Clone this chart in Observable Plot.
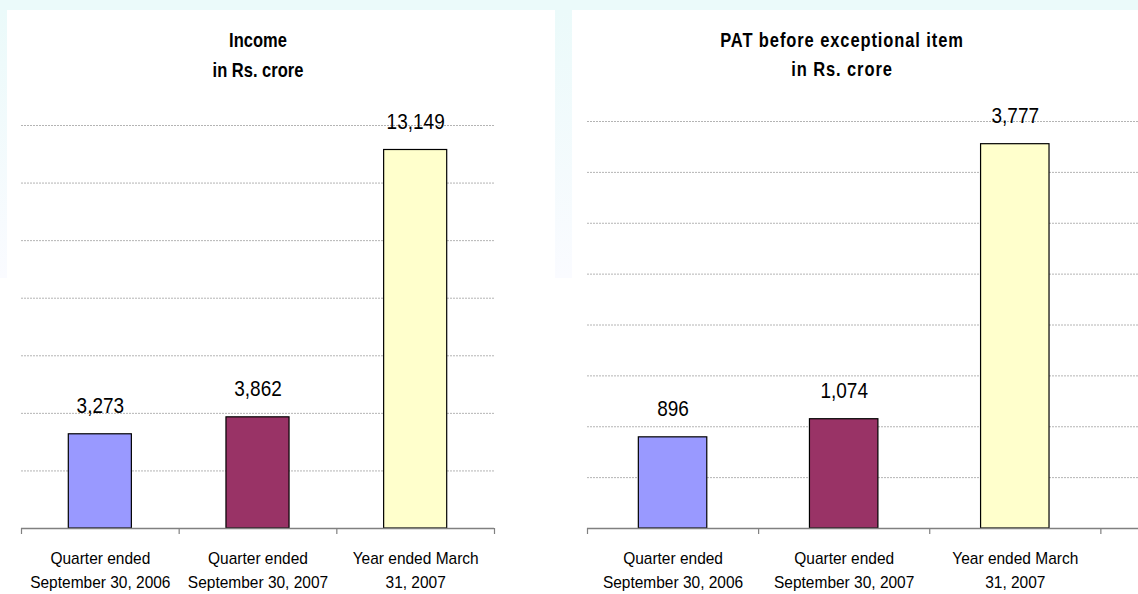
<!DOCTYPE html>
<html><head><meta charset="utf-8">
<script src="https://cdn.jsdelivr.net/npm/d3@7"></script>
<script src="https://cdn.jsdelivr.net/npm/@observablehq/plot@0.6"></script>
<style>
html,body{margin:0;padding:0;background:#fff;}
#wrap{position:relative;width:1138px;height:594px;overflow:hidden;background:#fff;font-family:"Liberation Sans",Arial,sans-serif;}
.strip{position:absolute;background:linear-gradient(#ebfafa,#fafbff);}
.title{position:absolute;text-align:center;font-weight:bold;color:#000;font-family:"Liberation Sans",Arial,sans-serif;font-size:16.5px;line-height:29px;white-space:nowrap;transform:scaleY(1.18);transform-origin:50% 0;}
.panel{position:absolute;top:0;}
</style></head><body>
<div id="wrap">
  <div class="strip" style="left:0;top:0;width:1138px;height:10px;background:#ebfafa"></div>
  <div class="strip" style="left:0;top:10px;width:7px;height:268px"></div>
  <div class="strip" style="left:555px;top:10px;width:17px;height:268px"></div>
  <div id="left" class="panel" style="left:0"></div>
  <div id="right" class="panel" style="left:560px"></div>
  <div class="title" id="t1" style="left:108px;top:26px;width:300px;line-height:25px"></div>
  <div class="title" id="t2" style="left:642px;top:26px;width:400px;letter-spacing:0.9px;line-height:24px"></div>
</div>
<script>
const categories = ["Quarter ended\nSeptember 30, 2006", "Quarter ended\nSeptember 30, 2007", "Year ended March\n31, 2007"];
const barColors = ["#9999ff", "#993366", "#ffffcc"];
const incomeValues = [3273, 3862, 13149];
const patValues = [896, 1074, 3777];
const incomeGrid = [2000, 4000, 6000, 8000, 10000, 12000, 14000];
const patGrid = [500, 1000, 1500, 2000, 2500, 3000, 3500, 4000];
const incomeTitle = ["Income", "in Rs. crore"];
const patTitle = ["PAT before exceptional item", "in Rs. crore"];

function stretch(svg, selector, k) {
  d3.select(svg).selectAll(selector).each(function() {
    const t = this.getAttribute("transform") || "";
    this.setAttribute("transform", t + ` scale(1,${k})`);
  });
}

function panel({values, grid, yMax, xMax, width, marginLeft, marginRight, marginTop}) {
  const data = values.map((v, i) => ({i, v, c: barColors[i]}));
  const svg = Plot.plot({
    width, height: 594, marginLeft, marginRight, marginTop, marginBottom: 66,
    style: {background: "transparent", fontFamily: "'Liberation Sans', Arial, sans-serif", overflow: "visible"},
    x: {domain: [0, xMax], axis: null},
    y: {domain: [0, yMax], axis: null},
    color: {type: "identity"},
    marks: [
      Plot.ruleY(grid, {stroke: "#b4b4b4", strokeDasharray: "2,1", strokeWidth: 1}),
      Plot.rectY(data, {x1: d => d.i + 0.3, x2: d => d.i + 0.7, y1: 0, y2: "v", fill: "c", stroke: "#000", strokeWidth: 1.2}),
      Plot.text(data, {x: d => d.i + 0.5, y: "v", text: d => d3.format(",")(d.v), dy: -21, lineAnchor: "bottom", fontSize: 19, fill: "#000", className: "vlabel"}),
      Plot.ruleY([0], {stroke: "#808080", strokeWidth: 1.5}),
      Plot.axisX({ticks: [0, 1, 2, 3], tickSize: 6, tickFormat: () => "", stroke: "#808080", strokeWidth: 1.2}),
      Plot.axisX({ticks: [0.5, 1.5, 2.5], tickSize: 0, tickPadding: 19, tickFormat: t => categories[Math.floor(t)], fontSize: 15.5, lineHeight: 1.38, fill: "#000", className: "xlabel"})
    ]
  });
  stretch(svg, ".vlabel text", 1.15);
  stretch(svg, ".xlabel text", 1.12);
  return svg;
}

document.getElementById("left").append(panel({values: incomeValues, grid: incomeGrid, yMax: 14000, xMax: 3, width: 560, marginLeft: 21, marginRight: 66, marginTop: 125}));
document.getElementById("right").append(panel({values: patValues, grid: patGrid, yMax: 4000, xMax: 3.22, width: 578, marginLeft: 27, marginRight: 0, marginTop: 121}));
document.getElementById("t1").innerHTML = incomeTitle.join("<br>");
document.getElementById("t2").innerHTML = patTitle.join("<br>");
</script>
</body></html>
